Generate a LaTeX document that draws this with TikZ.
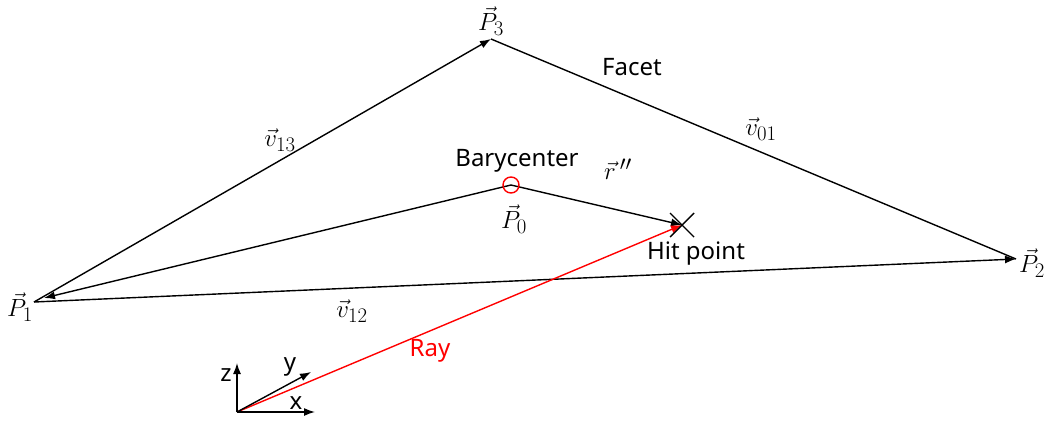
\documentclass[tikz,border=0pt]{standalone}
\usepackage{fontspec}
\newfontfamily\labelfont{Noto Sans}
\DeclareMathSizes{26}{26}{21}{16}
\usetikzlibrary{arrows.meta}
\tikzset{
  vec/.style={line width=1.4pt,-{Latex[length=11pt,width=8pt]}},
  edge/.style={line width=1.4pt},
  raystyle/.style={line width=1.4pt,red,-{Latex[length=11pt,width=8pt]}},
  mlab/.style={font=\fontsize{26}{31}\selectfont,inner sep=1pt},
  tlab/.style={font=\fontsize{24}{29}\selectfont\labelfont,inner sep=1pt},
}
\begin{document}
\begin{tikzpicture}[x=1pt,y=-1pt]
\useasboundingbox (0,0) rectangle (1048,421);
\coordinate (P1) at (34,302);
\coordinate (P1t) at (44,298);
\coordinate (P2) at (1016,259);
\coordinate (P3) at (491,39);
\coordinate (P0) at (511,185);
\coordinate (H) at (682,225);
\coordinate (O) at (237,412);
\coordinate (Ox) at (315,412);
\coordinate (Oz) at (237,363);
\coordinate (Oy) at (311,372);
% facet edges
\draw[vec] (P1) -- (P3);
\draw[edge] (P3) -- (P2);
\draw[vec] (P1) -- (P2);
% from barycenter
\draw[vec] (P0) -- (P1t);
\draw[vec] (P0) -- (H);
% ray
\draw[raystyle] (O) -- (H);
% hit cross
\draw[line width=1.4pt] ([shift={(-12,-12)}]H) -- ([shift={(12,12)}]H);
\draw[line width=1.4pt] ([shift={(-12,12)}]H) -- ([shift={(12,-12)}]H);
% barycenter circle
\node[draw=red,line width=1.4pt,circle,minimum size=16pt,inner sep=0pt] (bc) at (P0) {};
% axes
\draw[vec] (O) -- (Ox);
\draw[vec] (O) -- (Oz);
\draw[vec] (O) -- (Oy);
% labels
\node[mlab] (lP3) at (491,21) {$\vec P_3$};
\node[mlab] (lP2) at (1032,263) {$\vec P_2$};
\node[mlab] (lP1) at (20,307) {$\vec P_1$};
\node[mlab] (lP0) at (514,219) {$\vec P_0$};
\node[mlab] (lv13) at (280,140) {$\vec v_{13}$};
\node[mlab] (lv01) at (761,129) {$\vec v_{01}$};
\node[mlab] (lv12) at (352,311) {$\vec v_{12}$};
\node[mlab] (lr) at (618,169) {$\vec{r}\,''$};
\node[tlab] (lfacet) at (632,67) {Facet};
\node[tlab] (lbary) at (517,161) {Barycenter};
\node[tlab] (lhit) at (696,254) {Hit point};
\node[tlab,red] (lray) at (430,351) {Ray};
\node[tlab] (lz) at (226,375) {z};
\node[tlab] (ly) at (290,367) {y};
\node[tlab] (lx) at (296,403) {x};
\end{tikzpicture}
\end{document}
